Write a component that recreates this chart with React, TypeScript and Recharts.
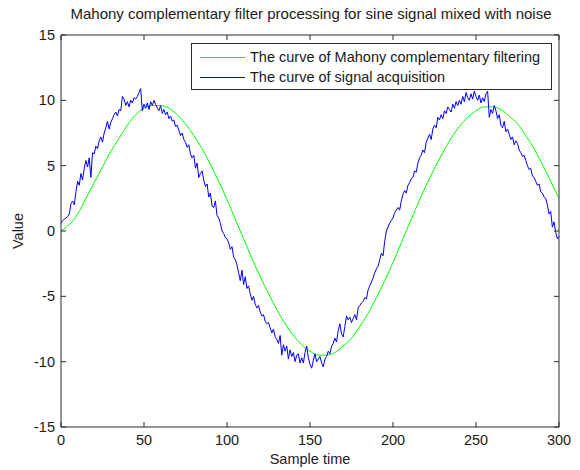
import React from "react";
import { LineChart, Line, XAxis, YAxis } from "recharts";

// samples 0..300, one value per sample
const signalAcquisition = [
  0.6, 0.8, 0.9, 1.0, 1.1, 1.3, 2.1, 2.3, 2.0, 3.0,
  3.8, 3.5, 4.4, 3.9, 4.8, 5.4, 4.9, 5.6, 4.1, 6.0,
  5.9, 6.5, 6.3, 6.9, 7.2, 6.8, 7.5, 7.9, 8.4, 7.8,
  8.3, 8.6, 8.9, 9.1, 8.8, 9.3, 9.2, 10.3, 10.1, 9.6,
  9.9, 9.5, 10.0, 9.8, 10.2, 10.1, 10.3, 10.6, 10.9, 9.2,
  9.7, 9.4, 9.8, 9.3, 9.9, 9.6, 10.0, 9.7, 9.4, 9.2,
  9.6, 9.0, 9.3, 8.9, 9.1, 8.6, 8.8, 8.4, 8.5, 8.0,
  8.1, 7.7, 7.3, 7.5, 7.0, 6.8, 6.4, 6.6, 5.9, 5.6,
  5.8, 4.8, 5.2, 4.1, 4.4, 4.6, 3.9, 3.4, 3.6, 2.6,
  2.9, 1.9, 1.8, 2.3, 1.2, 1.0, 0.6, 0.0, -0.2, -0.5,
  -0.6, -0.9, -1.4, -1.2, -2.0, -2.2, -2.6, -3.2, -3.8, -3.0,
  -4.1, -3.5, -4.4, -4.2, -4.8, -5.3, -5.0, -5.6, -5.9, -5.7,
  -6.2, -6.5, -6.4, -6.9, -7.1, -7.0, -7.4, -7.8, -7.5, -8.1,
  -8.3, -8.6, -8.0, -9.5, -8.7, -9.2, -8.8, -9.8, -9.1, -9.6,
  -9.3, -10.0, -9.5, -9.4, -10.1, -9.7, -10.1, -9.3, -8.8, -9.7,
  -10.2, -10.5, -9.9, -9.4, -10.0, -9.8, -9.6, -10.1, -10.4, -9.8,
  -9.6, -9.2, -9.4, -8.8, -8.6, -8.2, -8.5, -7.6, -7.1, -7.9,
  -8.1, -7.3, -6.5, -6.8, -6.6, -7.0, -6.7, -6.4, -6.8, -5.9,
  -5.7, -5.5, -5.4, -5.1, -5.2, -4.5, -4.2, -3.9, -3.6, -3.2,
  -2.9, -2.7, -2.2, -1.7, -1.9, -0.8, 0.0, 0.3, 0.6, 0.8,
  1.0, 1.4, 1.6, 1.8, 1.6, 2.3, 2.8, 3.1, 2.9, 3.5,
  3.7, 4.0, 4.1, 4.6, 4.5, 5.2, 5.6, 5.8, 6.2, 6.0,
  6.8, 7.1, 7.4, 7.0, 7.8, 8.1, 7.9, 8.7, 8.5, 8.9,
  8.6, 9.2, 9.0, 9.5, 9.3, 9.1, 9.7, 9.4, 9.9, 9.6,
  10.0, 9.7, 10.3, 9.9, 10.6, 10.2, 10.0, 10.5, 10.1, 10.7,
  10.3, 10.0, 10.4, 9.8, 10.2, 9.9, 10.5, 10.7, 8.7, 9.3,
  9.0, 9.6, 9.2, 8.6, 8.9, 8.1, 7.9, 8.4, 7.6, 7.8,
  7.4, 7.0, 7.2, 6.6, 6.9, 6.7, 6.2, 6.0, 5.7, 5.8,
  5.4, 5.0, 4.7, 4.8, 4.2, 4.1, 3.8, 3.5, 3.6, 3.0,
  2.9, 2.6, 2.5, 2.0, 1.3, 1.5, 0.3, 0.7, -0.1, -0.6,
  -0.4,
];

// filter output, every 5th sample
const mahonyFiltered = [
  0, 0.5, 1.3, 2.5, 3.7, 4.9, 6.1, 7.1, 8.1, 8.9,
  9.4, 9.6, 9.6, 9.4, 8.9, 8.2, 7.3, 6.3, 5.1, 3.8,
  2.4, 0.9, -0.6, -2.1, -3.5, -4.8, -6.0, -7.1, -8.0, -8.7,
  -9.2, -9.5, -9.5, -9.3, -8.8, -8.2, -7.3, -6.3, -5.1, -3.8,
  -2.4, -0.9, 0.6, 2.1, 3.5, 4.8, 6.0, 7.1, 8.0, 8.7,
  9.2, 9.5, 9.5, 9.3, 8.8, 8.2, 7.3, 6.3, 5.1, 3.8,
  2.5,
];
const filterStep = 5;

const xTicks = [0, 50, 100, 150, 200, 250, 300];
const yTicks = [-15, -10, -5, 0, 5, 10, 15];

const series = [
  { key: "filtered", name: "The curve of Mahony complementary filtering", color: "#00ff00" },
  { key: "signal", name: "The curve of signal acquisition", color: "#0000ff" },
];

const signalData = signalAcquisition.map((v, i) => ({ t: i, signal: v }));
const filteredData = mahonyFiltered.map((v, i) => ({ t: i * filterStep, filtered: v }));

const FONT = "'Liberation Sans', Arial, Helvetica, sans-serif";
const TEXT = "#1a1a1a";
const AXIS = "#2b2b2b";
const FS = 14.5;
const TICK_LEN = 5;
const GAP_X = 8; // label gap under the bottom axis
const GAP_Y = 6; // label gap left of the y axis

// plot box (margins + axis sizes below)
const M = { top: 34, right: 20, bottom: 13, left: 11 };
const PLOT_TOP = M.top + 1;
const PLOT_RIGHT = 580 - M.right - 1;

// MATLAB style: tick marks point into the axes, on all four sides
const bottomTick = (p: any) => {
  const axisY = p.y - GAP_X;
  return (
    <g>
      <line x1={p.x} x2={p.x} y1={axisY} y2={axisY - TICK_LEN} stroke={AXIS} />
      <line x1={p.x} x2={p.x} y1={PLOT_TOP} y2={PLOT_TOP + TICK_LEN} stroke={AXIS} />
      <text x={p.x} y={p.y} dy="0.71em" textAnchor="middle" fill={TEXT} fontSize={FS} fontFamily={FONT}>
        {p.payload.value}
      </text>
    </g>
  );
};
const leftTick = (p: any) => {
  const axisX = p.x + GAP_Y;
  return (
    <g>
      <line x1={axisX} x2={axisX + TICK_LEN} y1={p.y} y2={p.y} stroke={AXIS} />
      <line x1={PLOT_RIGHT} x2={PLOT_RIGHT - TICK_LEN} y1={p.y} y2={p.y} stroke={AXIS} />
      <text x={p.x} y={p.y} dy="0.355em" textAnchor="end" fill={TEXT} fontSize={FS} fontFamily={FONT}>
        {p.payload.value}
      </text>
    </g>
  );
};

export default function App() {
  return (
    <div style={{ position: "absolute", left: 0, top: 0, width: 580, height: 470, background: "#fff", fontFamily: FONT }}>
      <div style={{ position: "absolute", left: 0, width: 622, top: 5, textAlign: "center", fontSize: 15, color: TEXT, whiteSpace: "nowrap" }}>
        Mahony complementary filter processing for sine signal mixed with noise
      </div>
      <div style={{ position: "absolute", left: 310, width: 0, top: 451, display: "flex", justifyContent: "center", fontSize: FS, color: TEXT, whiteSpace: "nowrap" }}>
        Sample time
      </div>
      <div
        style={{
          position: "absolute",
          left: 18,
          top: 231,
          transform: "translate(-50%, -50%) rotate(-90deg)",
          fontSize: FS,
          color: TEXT,
        }}
      >
        Value
      </div>
      <LineChart width={580} height={470} margin={M}>
        <XAxis
          xAxisId="b"
          dataKey="t"
          type="number"
          domain={[0, 300]}
          ticks={xTicks}
          interval={0}
          allowDataOverflow
          height={30}
          tickSize={0}
          tickMargin={GAP_X}
          tickLine={false}
          stroke={AXIS}
          tick={bottomTick}
        />
        <XAxis
          xAxisId="top"
          orientation="top"
          type="number"
          domain={[0, 300]}
          allowDataOverflow
          height={1}
          tick={false}
          tickLine={false}
          stroke={AXIS}
        />
        <YAxis
          yAxisId="l"
          type="number"
          domain={[-15, 15]}
          ticks={yTicks}
          interval={0}
          allowDataOverflow
          width={50}
          tickSize={0}
          tickMargin={GAP_Y}
          tickLine={false}
          stroke={AXIS}
          tick={leftTick}
        />
        <YAxis
          yAxisId="r"
          orientation="right"
          type="number"
          domain={[-15, 15]}
          allowDataOverflow
          width={1}
          tick={false}
          tickLine={false}
          stroke={AXIS}
        />
        {series.map((s) => (
          <Line
            key={s.key}
            xAxisId="b"
            yAxisId="l"
            data={s.key === "signal" ? signalData : filteredData}
            dataKey={s.key}
            name={s.name}
            type={s.key === "signal" ? "linear" : "monotone"}
            stroke={s.color}
            strokeWidth={1}
            dot={false}
            isAnimationActive={false}
          />
        ))}
      </LineChart>
      {/* legend box, top right inside the axes */}
      <div
        style={{
          position: "absolute",
          left: 191,
          top: 43,
          width: 361,
          height: 47,
          border: `1px solid ${AXIS}`,
          background: "#fff",
          boxSizing: "border-box",
          padding: "3px 0 0 8px",
          fontSize: FS,
          color: TEXT,
        }}
      >
        {series.map((s) => (
          <div key={s.key} style={{ display: "flex", alignItems: "center", height: 20, whiteSpace: "nowrap" }}>
            <span style={{ display: "inline-block", width: 45, height: 0, borderTop: `1.5px solid ${s.color}`, marginRight: 5 }} />
            <span>{s.name}</span>
          </div>
        ))}
      </div>
    </div>
  );
}
